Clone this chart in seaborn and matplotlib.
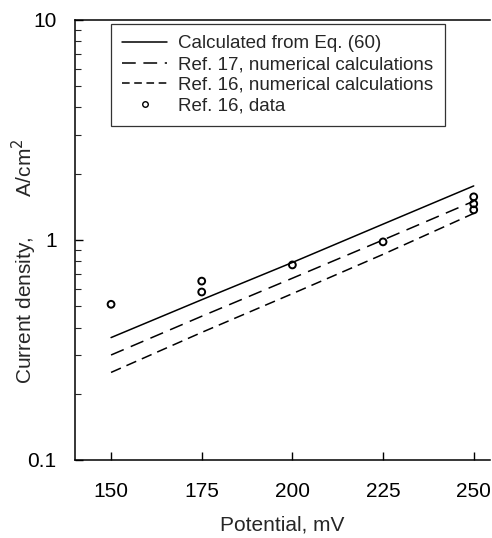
import numpy as np
import pandas as pd
import matplotlib
matplotlib.use("Agg")
import matplotlib.pyplot as plt
import seaborn as sns
from matplotlib.lines import Line2D

# Data
potential = [150, 175, 200, 225, 250]
calc_eq60 = [0.36, 0.535, 0.79, 1.18, 1.76]
ref17_num = [0.30, 0.45, 0.67, 1.00, 1.50]
ref16_num = [0.25, 0.38, 0.57, 0.86, 1.32]

data_x = [150, 175, 175, 200, 225, 250, 250, 250]
data_y = [0.51, 0.65, 0.58, 0.77, 0.98, 1.57, 1.46, 1.37]

series_names = ["Calculated from Eq. (60)",
                "Ref. 17, numerical calculations",
                "Ref. 16, numerical calculations"]
data_name = "Ref. 16, data"

sns.set_theme(style="white")
plt.rcParams['font.family'] = ['Liberation Sans', 'DejaVu Sans']

lines_df = pd.DataFrame({
    "Potential": potential * 3,
    "Current": calc_eq60 + ref17_num + ref16_num,
    "Series": [series_names[0]] * 5 + [series_names[1]] * 5 + [series_names[2]] * 5,
})
pts_df = pd.DataFrame({"Potential": data_x, "Current": data_y, "Series": data_name})

fig = plt.figure(figsize=(4.92, 5.38), dpi=100)
ax = fig.add_axes([0.152, 0.145, 0.844, 0.818])

sns.lineplot(data=lines_df, x="Potential", y="Current", hue="Series", style="Series",
             palette=["black"] * 3,
             dashes={series_names[0]: "", series_names[1]: (9, 5), series_names[2]: (7, 4)},
             linewidth=1.1, ax=ax, legend=False)
sns.scatterplot(data=pts_df, x="Potential", y="Current", marker="o", s=24,
                facecolor="none", edgecolor="black", linewidth=1.4, ax=ax, legend=False)

ax.set_yscale("log")
ax.set_xlim(140, 254.5)
ax.set_ylim(0.1, 10)
ax.set_xticks([150, 175, 200, 225, 250])
ax.set_yticks([0.1, 1, 10])
ax.set_yticklabels(["0.1", "1", "10"])
ax.tick_params(axis="both", which="major", direction="in", length=6, width=1,
               labelsize=15, colors="black")
ax.tick_params(axis="x", which="major", pad=16)
ax.tick_params(axis="y", which="major", pad=13)
ax.tick_params(axis="y", which="minor", direction="in", length=4, width=0.8, left=True)
ax.tick_params(axis="x", which="minor", bottom=False)
ax.tick_params(left=True, bottom=True)

for s in ["left", "bottom", "top"]:
    ax.spines[s].set_color("black")
    ax.spines[s].set_linewidth(1.1)
ax.spines["right"].set_visible(False)

ax.set_xlabel("Potential, mV", fontsize=15, labelpad=10)
ax.set_ylabel("Current density,       A/cm$^2$", fontsize=15)
ax.yaxis.set_label_coords(-0.085, 0.452)

handles = [
    Line2D([], [], color="black", lw=1.1),
    Line2D([], [], color="black", lw=1.1, dashes=(9, 5)),
    Line2D([], [], color="black", lw=1.1, dashes=(5, 3)),
    Line2D([], [], color="black", lw=0, marker="o", markersize=4,
           markerfacecolor="none", markeredgewidth=1.0),
]
leg = ax.legend(handles, series_names + [data_name], loc="upper left",
                bbox_to_anchor=(0.0867, 0.991), fontsize=13.5, frameon=True,
                fancybox=False, edgecolor="black", handlelength=2.4,
                handletextpad=0.6, labelspacing=0.2, borderpad=0.6,
                borderaxespad=0)
leg.get_frame().set_linewidth(0.9)

fig.savefig("out.png", dpi=100)
